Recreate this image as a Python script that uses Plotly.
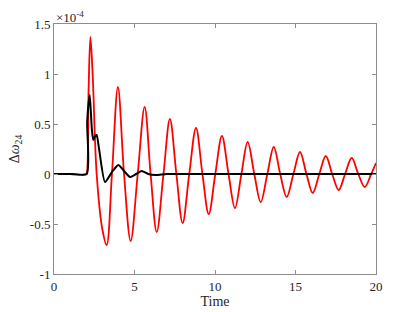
import plotly.graph_objects as go

# values in units of 1e-4
red_t = [0, 1.0, 2.0, 2.05, 2.15, 2.26, 2.4, 2.65, 3.0, 3.27, 3.6, 3.97, 4.35, 4.76, 5.2, 5.63,
         6.0, 6.38, 6.8, 7.2, 7.6, 7.99, 8.4, 8.82, 9.22, 9.61, 10.02, 10.43, 10.84,
         11.24, 11.64, 12.03, 12.44, 12.84, 13.25, 13.65, 14.05, 14.45, 14.87, 15.28,
         15.68, 16.07, 16.48, 16.88, 17.28, 17.68, 18.08, 18.49, 18.9, 19.3, 19.7, 20.0]
red_v = [0, 0, 0, 0.02, 0.85, 1.37, 1.0, 0.0, -0.55, -0.71, 0.0, 0.87, 0.0, -0.67, 0.0, 0.67,
         0.0, -0.58, 0.0, 0.55, 0.0, -0.49, 0.0, 0.46, 0.0, -0.40, 0.0, 0.38, 0.0,
         -0.34, 0.0, 0.32, 0.0, -0.28, 0.0, 0.27, 0.0, -0.23, 0.0, 0.22,
         0.0, -0.19, 0.0, 0.18, 0.0, -0.16, 0.0, 0.16, 0.0, -0.13, 0.0, 0.11]

black_t = [0, 1.0, 2.03, 2.06, 2.22, 2.35, 2.44, 2.56, 2.65, 2.8, 3.17, 3.6, 4.0, 4.35,
           4.72, 5.1, 5.45, 5.85, 6.3, 7.0, 8.0, 12.0, 20.0]
black_v = [0, 0, 0, 0.52, 0.79, 0.45, 0.34, 0.38, 0.39, 0.25, -0.08, 0.02, 0.09, 0.03,
           -0.03, 0.0, 0.03, 0.0, -0.01, 0, 0, 0, 0]

x_ticks = [0, 5, 10, 15, 20]
y_ticks = [-1, -0.5, 0, 0.5, 1, 1.5]

SERIF = "Liberation Serif, Times New Roman, DejaVu Serif, serif"

fig = go.Figure()
fig.add_trace(go.Scatter(
    x=red_t, y=red_v, mode="lines",
    line=dict(color="#ff0000", width=1.8, shape="spline", smoothing=1.0),
    showlegend=False,
))
fig.add_trace(go.Scatter(
    x=black_t, y=black_v, mode="lines",
    line=dict(color="#000000", width=2, shape="spline", smoothing=0.6),
    showlegend=False,
))

axis_style = dict(
    showline=True, mirror="ticks", linecolor="#8c8c8c", linewidth=1,
    ticks="inside", ticklen=4, tickcolor="#8c8c8c",
    showgrid=False, zeroline=False, automargin=False,
    tickfont=dict(family=SERIF, size=13, color="#262626"),
)

fig.update_xaxes(
    range=[0, 20], tickvals=x_ticks,
    title=dict(text="Time", font=dict(family=SERIF, size=14, color="#262626"), standoff=2),
    **axis_style,
)
fig.update_yaxes(
    range=[-1, 1.5], tickvals=y_ticks, ticktext=["-1", "-0.5", "0", "0.5", "1", "1.5"],
    title=dict(text="Δ<i>ω</i><sub>24</sub>", font=dict(family=SERIF, size=14, color="#262626"), standoff=6),
    **axis_style,
)

fig.add_annotation(
    x=0, y=1, xref="paper", yref="paper", xanchor="left", yanchor="bottom",
    text="×10<sup>-4</sup>", showarrow=False, yshift=-3,
    font=dict(family=SERIF, size=13, color="#262626"),
)

fig.update_layout(
    width=415, height=312,
    plot_bgcolor="white", paper_bgcolor="white",
    margin=dict(l=54, r=39, t=24, b=38),
)

# drop the page's default body margin so the figure sits at the window corner
fig.write_html(
    "out.html",
    config={"displayModeBar": False},
    post_script="document.body.style.margin='0';",
)
